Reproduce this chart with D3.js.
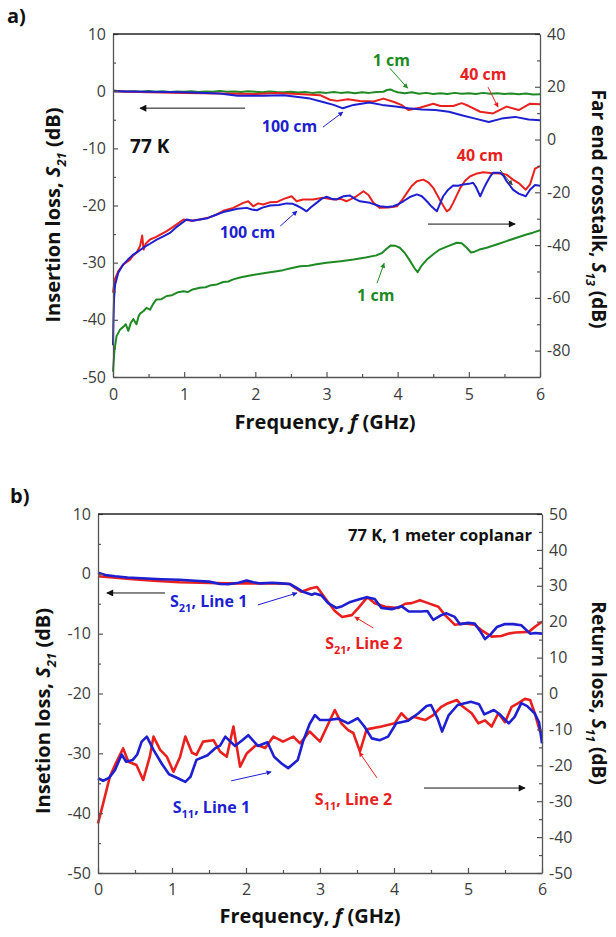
<!DOCTYPE html>
<html><head><meta charset="utf-8">
<script src="https://cdn.jsdelivr.net/npm/d3@7"></script>
<style>
body{margin:0;background:#fff}
svg{display:block}
text{font-family:"Open Sans",sans-serif;white-space:pre}
</style>
</head><body>
<svg id="c" width="616" height="937"></svg>
<script>
// ---------------- DATA ----------------
const freqTicks = [0,1,2,3,4,5,6];
const freqMinor = [0.5,1.5,2.5,3.5,4.5,5.5];
const aLeftTicks = [10,0,-10,-20,-30,-40,-50];
const aLeftMinor = [5,-5,-15,-25,-35,-45];
const aRightTicks = [40,20,0,-20,-40,-60,-80];
const aRightMinor = [30,10,-10,-30,-50,-70];
const bLeftTicks = [10,0,-10,-20,-30,-40,-50];
const bLeftMinor = [5,-5,-15,-25,-35,-45];
const bRightTicks = [50,40,30,20,10,0,-10,-20,-30,-40,-50];
const bRightMinor = [45,35,25,15,5,-5,-15,-25,-35,-45];

// Panel a: insertion loss S21 (left axis)
const aS21_1cm = [[0,0.1],[0.1,0],[0.2,-0.1],[0.3,0],[0.4,-0.1],[0.5,0.05],[0.6,-0.1],[0.7,0],[0.8,-0.15],[0.9,-0.05],[1.0,-0.1],[1.1,0],[1.2,-0.15],[1.3,-0.05],[1.4,-0.1],[1.5,0.05],[1.6,-0.1],[1.7,-0.05],[1.8,-0.15],[1.9,0],[2.0,-0.1],[2.1,-0.2],[2.2,-0.05],[2.3,-0.15],[2.4,-0.2],[2.5,-0.1],[2.6,-0.25],[2.7,-0.15],[2.8,-0.3],[2.9,-0.2],[3.0,-0.3],[3.1,-0.15],[3.2,-0.3],[3.3,-0.2],[3.4,-0.35],[3.5,-0.2],[3.6,-0.3],[3.7,-0.15],[3.8,-0.1],[3.85,0.2],[3.9,0.3],[3.95,0.0],[4.0,-0.2],[4.1,-0.35],[4.2,-0.2],[4.3,-0.45],[4.4,-0.3],[4.5,-0.5],[4.6,-0.35],[4.7,-0.5],[4.8,-0.3],[4.9,-0.45],[5.0,-0.35],[5.1,-0.5],[5.2,-0.3],[5.3,-0.45],[5.4,-0.35],[5.5,-0.5],[5.6,-0.4],[5.7,-0.55],[5.8,-0.4],[5.9,-0.6],[6.0,-0.55]];
const aS21_40cm = [[0,0],[0.5,-0.2],[1.0,-0.3],[1.5,-0.4],[2.0,-0.5],[2.3,-0.3],[2.6,-0.5],[2.91,-0.7],[3.05,-1.5],[3.15,-1.7],[3.3,-1.4],[3.47,-1.7],[3.66,-1.8],[3.8,-1.3],[3.95,-1.9],[4.05,-2.4],[4.15,-3.3],[4.31,-2.9],[4.5,-2.2],[4.6,-2.6],[4.78,-2.6],[4.9,-2.1],[5.0,-2.6],[5.16,-3.6],[5.34,-3.9],[5.53,-2.7],[5.7,-3.3],[5.86,-2.2],[6.0,-2.3]];
const aS21_100cm = [[0,0],[0.5,-0.1],[1.0,-0.2],[1.5,-0.4],[1.75,-0.8],[2.1,-0.8],[2.4,-0.7],[2.6,-1.0],[2.77,-1.3],[2.95,-1.9],[3.1,-2.4],[3.23,-3.0],[3.38,-2.4],[3.6,-2.0],[3.78,-2.4],[3.97,-2.7],[4.15,-3.0],[4.34,-3.2],[4.53,-3.3],[4.72,-3.6],[4.9,-4.2],[5.09,-4.8],[5.28,-5.4],[5.46,-4.8],[5.65,-4.5],[5.84,-4.95],[6.0,-5.1]];

// Panel a: far end crosstalk S13 (right axis)
const aS13_1cm = [[0,-88],[0.02,-80],[0.05,-74.5],[0.08,-73],[0.1,-72],[0.145,-71],[0.18,-70],[0.215,-72.5],[0.25,-69.5],[0.285,-68],[0.33,-70],[0.36,-67],[0.38,-66],[0.43,-65],[0.47,-63.8],[0.52,-64.5],[0.56,-62.5],[0.61,-60.6],[0.68,-60.5],[0.755,-59.3],[0.83,-59],[0.9,-58],[0.99,-57.5],[1.05,-57.8],[1.12,-56.8],[1.22,-56.2],[1.3,-56],[1.38,-55.2],[1.46,-54.9],[1.55,-54],[1.62,-53.8],[1.69,-53],[1.8,-52.2],[1.925,-51.5],[2.05,-51],[2.16,-50.5],[2.28,-50],[2.39,-49.5],[2.5,-48.8],[2.63,-48],[2.75,-47.8],[2.86,-47.3],[3.0,-46.7],[3.2,-46.1],[3.38,-45.5],[3.55,-44.7],[3.7,-43.9],[3.78,-43],[3.84,-41.5],[3.9,-40.2],[3.97,-40.3],[4.03,-41],[4.1,-43],[4.17,-45.8],[4.23,-48.5],[4.28,-50.3],[4.33,-48],[4.41,-45.5],[4.5,-43.5],[4.59,-41.7],[4.7,-40.5],[4.83,-39.1],[4.9,-39.3],[4.97,-41],[5.03,-42.8],[5.08,-42.5],[5.15,-41.7],[5.25,-41],[5.4,-39.7],[5.53,-38.5],[5.67,-37.2],[5.81,-36],[5.9,-35.3],[6.0,-34.4]];
const aS13_40cm = [[0,-58],[0.025,-53],[0.075,-49.9],[0.145,-47.3],[0.24,-45.5],[0.28,-44],[0.33,-42.9],[0.38,-40.4],[0.41,-36.4],[0.43,-41.7],[0.46,-39.5],[0.52,-37.9],[0.6,-37],[0.755,-34.7],[0.85,-33],[0.99,-30.3],[1.1,-30.8],[1.22,-30.3],[1.35,-29.5],[1.46,-28.4],[1.55,-27],[1.69,-25.9],[1.83,-24],[1.9,-23.4],[1.97,-25.3],[2.04,-24.2],[2.11,-24.6],[2.2,-23.8],[2.3,-23.7],[2.4,-22.5],[2.51,-21.5],[2.58,-23.4],[2.67,-22.7],[2.81,-22.7],[2.95,-22.1],[3.1,-22.7],[3.2,-22.5],[3.28,-23.4],[3.35,-22.5],[3.42,-21.5],[3.52,-19.6],[3.59,-21],[3.66,-24],[3.75,-25.9],[3.87,-25.8],[3.99,-25.3],[4.06,-23],[4.13,-20.2],[4.2,-17.5],[4.27,-15.8],[4.36,-15.2],[4.43,-16.2],[4.5,-18.3],[4.59,-22.7],[4.65,-25.5],[4.69,-27.2],[4.73,-26.5],[4.78,-24],[4.88,-18.3],[4.95,-15.5],[5.02,-13.9],[5.1,-13],[5.2,-12.4],[5.34,-12.8],[5.45,-12.9],[5.53,-13.3],[5.62,-15.2],[5.7,-16.5],[5.8,-19],[5.86,-17],[5.93,-11],[6.0,-10.1]];
const aS13_100cm = [[0,-78],[0.005,-70],[0.015,-60],[0.03,-55],[0.074,-50.5],[0.145,-47.3],[0.21,-45.5],[0.285,-43.6],[0.35,-42.5],[0.426,-41],[0.52,-39.5],[0.614,-37.9],[0.7,-36.8],[0.8,-35.4],[0.9,-33],[1.035,-30.3],[1.12,-30.8],[1.22,-30.3],[1.33,-29.8],[1.457,-28.4],[1.55,-27.5],[1.644,-26.9],[1.75,-26.2],[1.88,-25.9],[1.95,-26.5],[2.02,-26.8],[2.1,-25.8],[2.206,-25],[2.33,-24.8],[2.44,-24.2],[2.52,-24.3],[2.58,-25],[2.65,-26],[2.72,-27.2],[2.79,-25.5],[2.86,-24],[2.93,-22.5],[3.0,-21.7],[3.07,-22.4],[3.14,-22.7],[3.24,-21.5],[3.33,-21.2],[3.4,-22.5],[3.47,-23.4],[3.61,-24],[3.75,-25.3],[3.85,-25.6],[3.94,-25.3],[4.01,-24.5],[4.08,-23.4],[4.17,-21.8],[4.27,-20.8],[4.34,-21.5],[4.41,-23.4],[4.48,-25.5],[4.55,-27.2],[4.6,-24],[4.64,-21.5],[4.71,-19],[4.78,-17.4],[4.85,-17.5],[4.92,-17],[5.0,-16.8],[5.06,-16.4],[5.1,-18],[5.16,-21.5],[5.21,-18.5],[5.25,-16.4],[5.3,-14],[5.34,-12.6],[5.44,-12.6],[5.49,-13.8],[5.53,-15.8],[5.58,-17.5],[5.62,-19],[5.7,-20.5],[5.8,-21.5],[5.86,-19],[5.93,-17.2],[6.0,-17.5]];

// Panel b: insertion loss S21 (left axis)
const bS21_line1 = [[0,0.2],[0.1,-0.2],[0.23,-0.4],[0.4,-0.6],[0.59,-0.75],[0.86,-0.9],[1.1,-1.0],[1.31,-1.15],[1.5,-1.3],[1.65,-1.7],[1.76,-1.75],[1.9,-1.5],[2.01,-1.1],[2.1,-1.4],[2.19,-1.6],[2.35,-1.5],[2.48,-1.6],[2.59,-1.7],[2.68,-2.3],[2.77,-3.0],[2.89,-3.5],[2.93,-3.3],[3.02,-3.6],[3.11,-4.9],[3.22,-5.7],[3.3,-5.4],[3.41,-4.7],[3.52,-4.3],[3.63,-3.9],[3.74,-4.2],[3.83,-5.7],[3.97,-5.9],[4.1,-5.4],[4.2,-6.3],[4.37,-6.3],[4.45,-6.2],[4.53,-7.7],[4.64,-6.9],[4.71,-6.6],[4.82,-7.2],[4.89,-8.4],[5.0,-8.2],[5.09,-8.3],[5.16,-9.5],[5.23,-10.9],[5.3,-10.2],[5.39,-8.9],[5.5,-8.4],[5.61,-8.4],[5.72,-8.6],[5.84,-10],[5.91,-9.9],[6.0,-10]];
const bS21_line2 = [[0,-0.4],[0.2,-0.6],[0.47,-0.9],[0.8,-1.2],[1.1,-1.4],[1.38,-1.5],[1.76,-1.6],[2.1,-1.6],[2.4,-1.6],[2.59,-1.7],[2.67,-2.4],[2.75,-3.0],[2.88,-2.4],[2.96,-2.2],[3.09,-4.4],[3.2,-6.2],[3.3,-7.2],[3.43,-6.9],[3.52,-5.7],[3.64,-3.9],[3.74,-4.9],[3.88,-5.5],[4.06,-5.7],[4.15,-5.0],[4.24,-4.9],[4.35,-4.4],[4.46,-4.9],[4.6,-5.5],[4.69,-6.9],[4.82,-8.5],[4.96,-8.3],[5.09,-8.5],[5.18,-9.4],[5.32,-10.5],[5.45,-10.4],[5.54,-10],[5.64,-9.8],[5.82,-9.7],[5.91,-8.8],[6.0,-8.0]];

// Panel b: return loss S11 (right axis)
const bS11_line1 = [[0,-23.6],[0.07,-24.3],[0.15,-23.5],[0.23,-21.3],[0.32,-17.0],[0.38,-19],[0.47,-18.5],[0.53,-17],[0.59,-13.4],[0.66,-12.0],[0.75,-15.7],[0.86,-19.5],[0.96,-22.5],[1.08,-23.6],[1.18,-24.6],[1.25,-23.2],[1.33,-18.5],[1.48,-17.2],[1.58,-15.3],[1.65,-14.5],[1.72,-12.0],[1.85,-14.6],[1.95,-13],[2.03,-11.6],[2.16,-14.6],[2.29,-13.6],[2.38,-17.6],[2.48,-19.5],[2.57,-20.8],[2.7,-18.5],[2.77,-13.4],[2.86,-8.5],[2.93,-6.0],[3.0,-7.4],[3.11,-7.4],[3.25,-7.0],[3.38,-8.3],[3.51,-6.9],[3.6,-9.2],[3.7,-12.5],[3.81,-13.0],[3.92,-12.0],[4.03,-8.3],[4.19,-7.6],[4.33,-5.5],[4.44,-3.5],[4.5,-3.2],[4.59,-7.0],[4.65,-10.6],[4.74,-6.0],[4.86,-3.2],[5.04,-2.3],[5.15,-3],[5.22,-5.8],[5.35,-4.6],[5.44,-6.0],[5.55,-8.3],[5.63,-6.5],[5.72,-2.7],[5.8,-3.5],[5.9,-5.5],[5.96,-8],[6.0,-13.9]];
const bS11_line2 = [[0,-36.2],[0.07,-30.6],[0.16,-23.2],[0.23,-19.9],[0.34,-15.3],[0.41,-19.0],[0.52,-19.9],[0.61,-24.1],[0.7,-17.6],[0.75,-12],[0.84,-15.7],[0.93,-17.6],[1.02,-21.8],[1.11,-17.6],[1.18,-12],[1.27,-16.5],[1.33,-17.1],[1.42,-13.4],[1.56,-13.0],[1.65,-16.2],[1.74,-17.6],[1.83,-9.2],[1.92,-20.4],[2.01,-16.7],[2.14,-14.3],[2.26,-15.2],[2.37,-12],[2.5,-13.4],[2.64,-12],[2.73,-13.9],[2.86,-10.6],[3.0,-13.4],[3.1,-9],[3.2,-4.6],[3.29,-8.3],[3.38,-10.2],[3.45,-11],[3.54,-16.2],[3.63,-10],[3.83,-9.2],[4.01,-8.3],[4.1,-5.5],[4.19,-7.4],[4.26,-6.5],[4.42,-7.4],[4.53,-6],[4.64,-3.7],[4.73,-2.7],[4.85,-1.8],[4.92,-3.5],[5.05,-5.5],[5.14,-8.3],[5.23,-7.5],[5.32,-9.2],[5.41,-5.5],[5.5,-8.0],[5.59,-3.7],[5.68,-2.7],[5.77,-1.5],[5.84,-1.8],[5.91,-6],[5.97,-10.4],[6.0,-10.8]];

// ---------------- DRAWING ----------------
const svg = d3.select("#c");
const C = {green:"#1f8a24", red:"#e8201e", blue:"#1d1fd0", black:"#111", axis:"#555", tick:"#3c3c3c"};

const defs = svg.append("defs");
function marker(id, color, w, h){
  defs.append("marker").attr("id",id).attr("viewBox","0 0 10 10").attr("refX",9).attr("refY",5)
    .attr("markerWidth",w).attr("markerHeight",h).attr("markerUnits","userSpaceOnUse").attr("orient","auto")
    .append("path").attr("d","M0,0 L10,5 L0,10 Z").attr("fill",color);
}
marker("mk-black",C.black,10,7);
marker("mk-blue",C.blue,7,5);
marker("mk-red",C.red,7,5);
marker("mk-green",C.green,7,5);
marker("mk-grey","#444",7,5);

function rich(g, x, y, parts, o){
  const t = g.append("text").attr("x",x).attr("y",y).attr("font-size",o.size)
    .attr("font-weight",o.weight||"bold").attr("fill",o.color||C.black)
    .attr("text-anchor",o.anchor||"start");
  if (o.rotate) t.attr("transform",`rotate(${o.rotate},${x},${y})`);
  let shift = 0;
  parts.forEach(p=>{
    const s = t.append("tspan").text(p.t);
    const want = p.sub ? (o.subShift||5) : 0;
    if (want !== shift){ s.attr("dy", want-shift); shift = want; }
    if (p.sub) s.attr("font-size", o.subSize||Math.round(o.size*0.62));
    if (p.it) s.attr("font-style","italic");
  });
  return t;
}

function drawPanel(P){
  const g = svg.append("g");
  const x = d3.scaleLinear().domain([0,6]).range([P.left,P.right]);
  const yL = d3.scaleLinear().domain(P.yLdom).range([P.bottom,P.top]);
  const yR = d3.scaleLinear().domain(P.yRdom).range([P.bottom,P.top]);

  // series
  const lineL = d3.line().x(d=>x(d[0])).y(d=>yL(d[1]));
  const lineR = d3.line().x(d=>x(d[0])).y(d=>yR(d[1]));
  const plot = g.append("g");
  P.series.forEach(s=>{
    plot.append("path").datum(s.data).attr("fill","none").attr("stroke",s.color)
      .attr("stroke-width",P.lw).attr("stroke-linejoin","round")
      .attr("d", s.axis==="R" ? lineR(s.data) : lineL(s.data));
  });

  // axes
  const fmt = d=>String(d);
  function styleAxis(sel){
    sel.selectAll(".domain").attr("stroke",C.axis).attr("stroke-width",1.3);
    sel.selectAll(".tick line").attr("stroke",C.axis).attr("stroke-width",1.2);
    sel.selectAll(".tick text").attr("fill",C.tick).attr("font-size",16).attr("font-family","'Open Sans',sans-serif");
  }
  const xa = g.append("g").attr("transform",`translate(0,${P.bottom})`)
    .call(d3.axisBottom(x).tickValues(freqTicks).tickFormat(fmt).tickSize(-5).tickSizeOuter(0).tickPadding(P.xPad));
  styleAxis(xa);
  const xm = g.append("g").attr("transform",`translate(0,${P.bottom})`)
    .call(d3.axisBottom(x).tickValues(freqMinor).tickFormat(()=>"").tickSize(-3).tickSizeOuter(0));
  xm.select(".domain").remove(); styleAxis(xm);

  const la = g.append("g").attr("transform",`translate(${P.left},0)`)
    .call(d3.axisLeft(yL).tickValues(P.lTicks).tickFormat(fmt).tickSize(-5).tickSizeOuter(0).tickPadding(7));
  styleAxis(la);
  const lm = g.append("g").attr("transform",`translate(${P.left},0)`)
    .call(d3.axisLeft(yL).tickValues(P.lMinor).tickFormat(()=>"").tickSize(-3).tickSizeOuter(0));
  lm.select(".domain").remove(); styleAxis(lm);

  const ra = g.append("g").attr("transform",`translate(${P.right},0)`)
    .call(d3.axisRight(yR).tickValues(P.rTicks).tickFormat(fmt).tickSize(-5).tickSizeOuter(0).tickPadding(7));
  styleAxis(ra);
  const rm = g.append("g").attr("transform",`translate(${P.right},0)`)
    .call(d3.axisRight(yR).tickValues(P.rMinor).tickFormat(()=>"").tickSize(-3).tickSizeOuter(0));
  rm.select(".domain").remove(); styleAxis(rm);

  g.append("line").attr("x1",P.left).attr("x2",P.right).attr("y1",P.top).attr("y2",P.top)
    .attr("stroke","#222").attr("stroke-width",1.3);

  // annotations
  P.notes.forEach(n=>{
    rich(g, x(n.at[0]), yL(n.at[1]), n.parts, {size:n.size||16, color:n.color, anchor:n.anchor, subShift:5, subSize:11});
  });
  P.arrows.forEach(a=>{
    g.append("line").attr("x1",x(a.from[0])).attr("y1",yL(a.from[1]))
      .attr("x2",x(a.to[0])).attr("y2",yL(a.to[1]))
      .attr("stroke",a.color).attr("stroke-width",a.w||1)
      .attr("marker-end",`url(#${a.mk})`);
  });

  // axis titles
  rich(g, P.xTitle[0], P.xTitle[1], [{t:"Frequency, "},{t:"f",it:true},{t:" (GHz)"}], {size:20, anchor:"middle"});
  rich(g, P.lTitle[0], P.lTitle[1], P.lTitleParts, {size:20, anchor:"middle", rotate:-90, subShift:6, subSize:13});
  rich(g, P.rTitle[0], P.rTitle[1], P.rTitleParts, {size:19, anchor:"middle", rotate:90, subShift:6, subSize:12});
  rich(g, P.tag[0], P.tag[1], [{t:P.tagText}], {size:20});
}

drawPanel({
  left:113, right:540, top:34, bottom:377, lw:2,
  yLdom:[-50,10], yRdom:[-90,40],
  lTicks:aLeftTicks, lMinor:aLeftMinor, rTicks:aRightTicks, rMinor:aRightMinor, xPad:12,
  series:[
    {data:aS13_1cm, axis:"R", color:C.green},
    {data:aS13_40cm, axis:"R", color:C.red},
    {data:aS13_100cm, axis:"R", color:C.blue},
    {data:aS21_1cm, axis:"L", color:C.green},
    {data:aS21_40cm, axis:"L", color:C.red},
    {data:aS21_100cm, axis:"L", color:C.blue}
  ],
  notes:[
    {at:[0.24,-10.85], parts:[{t:"77 K"}], size:19, color:C.black},
    {at:[2.09,-7.17], parts:[{t:"100 cm"}], color:C.blue},
    {at:[3.65,4.37], parts:[{t:"1 cm"}], color:C.green},
    {at:[4.876,1.92], parts:[{t:"40 cm"}], color:C.red},
    {at:[4.83,-12.24], parts:[{t:"40 cm"}], color:C.red},
    {at:[1.50,-25.7], parts:[{t:"100 cm"}], color:C.blue},
    {at:[3.43,-36.7], parts:[{t:"1 cm"}], color:C.green}
  ],
  arrows:[
    {from:[1.855,-2.97], to:[0.38,-2.97], color:C.black, mk:"mk-black"},
    {from:[4.426,-23.25], to:[5.65,-23.25], color:C.black, mk:"mk-black"},
    {from:[2.95,-6.29], to:[3.23,-3.67], color:C.blue, mk:"mk-blue"},
    {from:[3.89,4.02], to:[4.14,0.52], color:C.green, mk:"mk-green"},
    {from:[5.27,0.7], to:[5.41,-2.8], color:C.red, mk:"mk-red"},
    {from:[5.44,-13.8], to:[5.61,-16.4], color:"#444", mk:"mk-grey"},
    {from:[2.35,-23.6], to:[2.585,-20.98], color:C.blue, mk:"mk-blue"},
    {from:[3.71,-33.6], to:[3.81,-30.1], color:C.green, mk:"mk-green"}
  ],
  xTitle:[325,429],
  lTitle:[60,215], lTitleParts:[{t:"Insertion loss, "},{t:"S",it:true},{t:"21",sub:true,it:true},{t:" (dB)"}],
  rTitle:[592,209], rTitleParts:[{t:"Far end crosstalk, "},{t:"S",it:true},{t:"13",sub:true,it:true},{t:" (dB)"}],
  tag:[7,23], tagText:"a)"
});

drawPanel({
  left:98, right:542, top:514, bottom:873, lw:2.6,
  yLdom:[-50,10], yRdom:[-50,50],
  lTicks:bLeftTicks, lMinor:bLeftMinor, rTicks:bRightTicks, rMinor:bRightMinor, xPad:11,
  series:[
    {data:bS11_line2, axis:"R", color:C.red},
    {data:bS11_line1, axis:"R", color:C.blue},
    {data:bS21_line2, axis:"L", color:C.red},
    {data:bS21_line1, axis:"L", color:C.blue}
  ],
  notes:[
    {at:[5.865,5.49], parts:[{t:"77 K, 1 meter coplanar"}], size:16.5, color:C.black, anchor:"end"},
    {at:[0.973,-5.54], parts:[{t:"S"},{t:"21",sub:true},{t:", Line 1"}], color:C.blue},
    {at:[3.07,-12.56], parts:[{t:"S"},{t:"21",sub:true},{t:", Line 2"}], color:C.red},
    {at:[1.01,-39.97], parts:[{t:"S"},{t:"11",sub:true},{t:", Line 1"}], color:C.blue},
    {at:[2.93,-38.6], parts:[{t:"S"},{t:"11",sub:true},{t:", Line 2"}], color:C.red}
  ],
  arrows:[
    {from:[0.905,-3.2], to:[0.12,-3.2], color:C.black, mk:"mk-black"},
    {from:[4.405,-35.8], to:[5.77,-35.8], color:C.black, mk:"mk-black"},
    {from:[2.16,-5.2], to:[2.69,-3.2], color:C.blue, mk:"mk-blue"},
    {from:[3.72,-9.05], to:[3.47,-7.2], color:C.red, mk:"mk-red"},
    {from:[1.80,-34.6], to:[2.34,-33.1], color:C.blue, mk:"mk-blue"},
    {from:[3.77,-34.1], to:[3.53,-29.8], color:C.red, mk:"mk-red"}
  ],
  xTitle:[310,923],
  lTitle:[50,711], lTitleParts:[{t:"Insetion loss, "},{t:"S",it:true},{t:"21",sub:true,it:true},{t:" (dB)"}],
  rTitle:[592,693], rTitleParts:[{t:"Return loss, "},{t:"S",it:true},{t:"11",sub:true,it:true},{t:" (dB)"}],
  tag:[10,503], tagText:"b)"
});
</script>
</body></html>
